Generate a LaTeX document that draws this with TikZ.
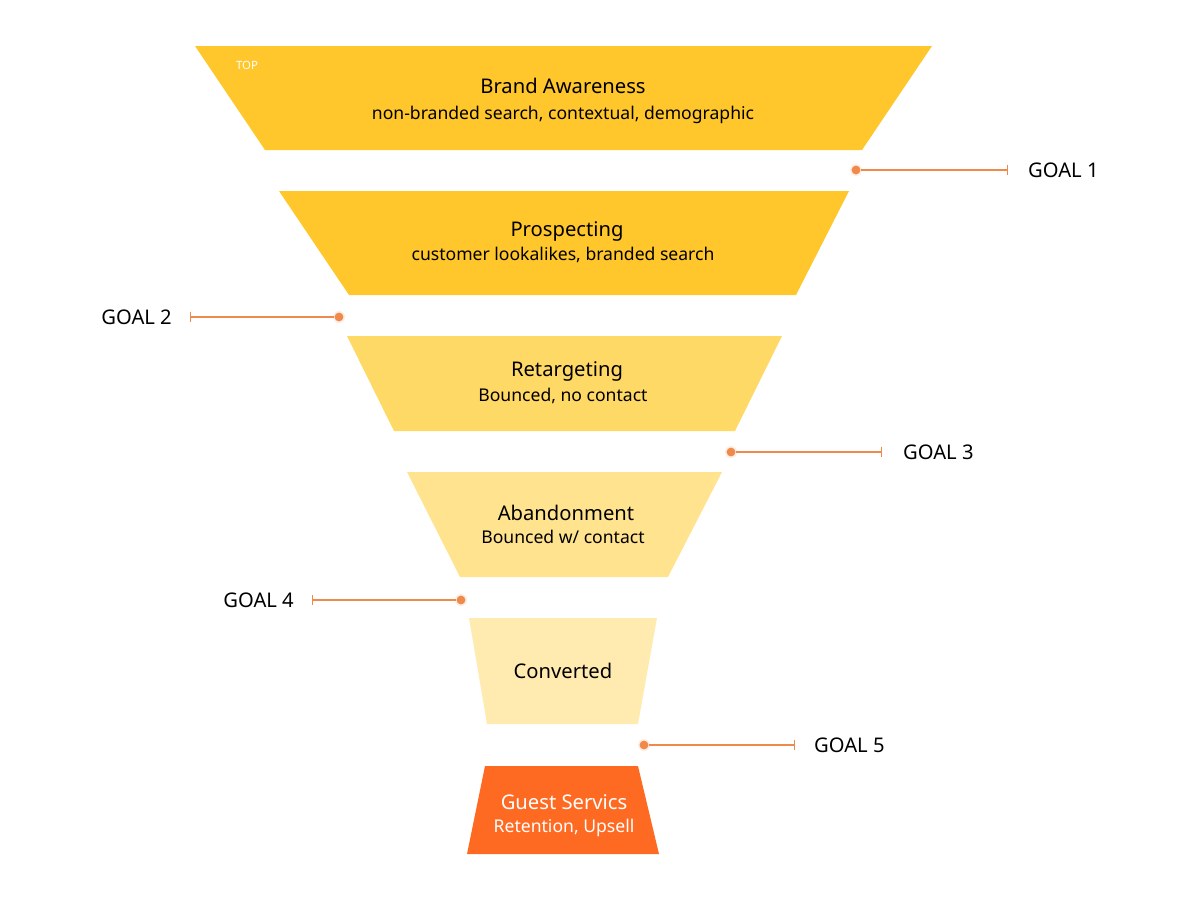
\documentclass[tikz,border=0pt]{standalone}
\usepackage{fontspec}
\setmainfont{Noto Sans}
\usetikzlibrary{arrows.meta}
\definecolor{gold}{HTML}{FFC72C}
\definecolor{goldlight}{HTML}{FFD966}
\definecolor{goldpale}{HTML}{FFE38F}
\definecolor{cream}{HTML}{FFEBB0}
\definecolor{guest}{HTML}{FF6A22}
\definecolor{goalline}{HTML}{F08A4B}
\begin{document}
\begin{tikzpicture}[
    x=0.02cm, y=-0.02cm,
    title/.style={font=\fontsize{11.5}{14}\selectfont\bfseries, align=center},
    sub/.style={font=\fontsize{10}{13}\selectfont, align=center},
    goal/.style={font=\fontsize{11.5}{14}\selectfont\bfseries},
    link/.style={goalline, thick, -{Bar[width=6pt]}},
    dot/.style={circle, fill=goalline, inner sep=0pt, minimum size=5pt}
]
\useasboundingbox (0,0) rectangle (1200,900);

% Trichter
\fill[gold] (195,46) -- (932,46) -- (862,150) -- (265,150) -- cycle;
\fill[gold] (279,191) -- (849,191) -- (796,295) -- (349,295) -- cycle;
\fill[goldlight] (347,336) -- (782,336) -- (735,431) -- (394,431) -- cycle;
\fill[goldpale] (407,472) -- (722,472) -- (668,577) -- (460,577) -- cycle;
\fill[cream] (469,618) -- (657,618) -- (638,724) -- (487,724) -- cycle;
\fill[guest] (485,766) -- (638,766) -- (659,854) -- (467,854) -- cycle;

% Texte
\node[font=\fontsize{6.5}{8}\selectfont\bfseries, text=white] (top) at (247,65) {TOP};
\node[title] (brand) at (563,86) {Brand Awareness};
\node[sub, below=0pt] (brandsub) at (brand.south) {non-branded search, contextual, demographic};
\node[title] (prosp) at (567,231) {Prospecting};
\node[sub] (prospsub) at (563,255) {customer lookalikes, branded search};
\node[title] (retarg) at (567,371) {Retargeting};
\node[sub] (retargsub) at (563,396) {Bounced, no contact};
\node[title] (aband) at (566,513) {Abandonment};
\node[sub] (abandsub) at (563,537) {Bounced w/ contact};
\node[title] (conv) at (563,671) {Converted};
\node[title, text=white] (guestsv) at (564,802) {Guest Servics};
\node[sub, text=white] (guestsub) at (564,828) {Retention, Upsell};

% Ziele
\foreach \name/\dx/\dy/\tx/\lx/\side in {g1/856/170/1008/1022/east, g2/339/317/190/178/west,
    g3/731/452/882/897/east, g4/461/600/312/300/west, g5/644/745/795/808/east}{
    \fill[goalline!15] (\dx,\dy) circle (6);
    \node[dot] (\name dot) at (\dx,\dy) {};
    \coordinate (\name tick) at (\tx,\dy);
    \draw[link] (\name dot) -- (\name tick);
}
\node[goal, anchor=west] (g1) at (1022,170) {GOAL 1};
\node[goal, anchor=east] (g2) at (178,317) {GOAL 2};
\node[goal, anchor=west] (g3) at (897,452) {GOAL 3};
\node[goal, anchor=east] (g4) at (300,600) {GOAL 4};
\node[goal, anchor=west] (g5) at (808,745) {GOAL 5};

\end{tikzpicture}
\end{document}
